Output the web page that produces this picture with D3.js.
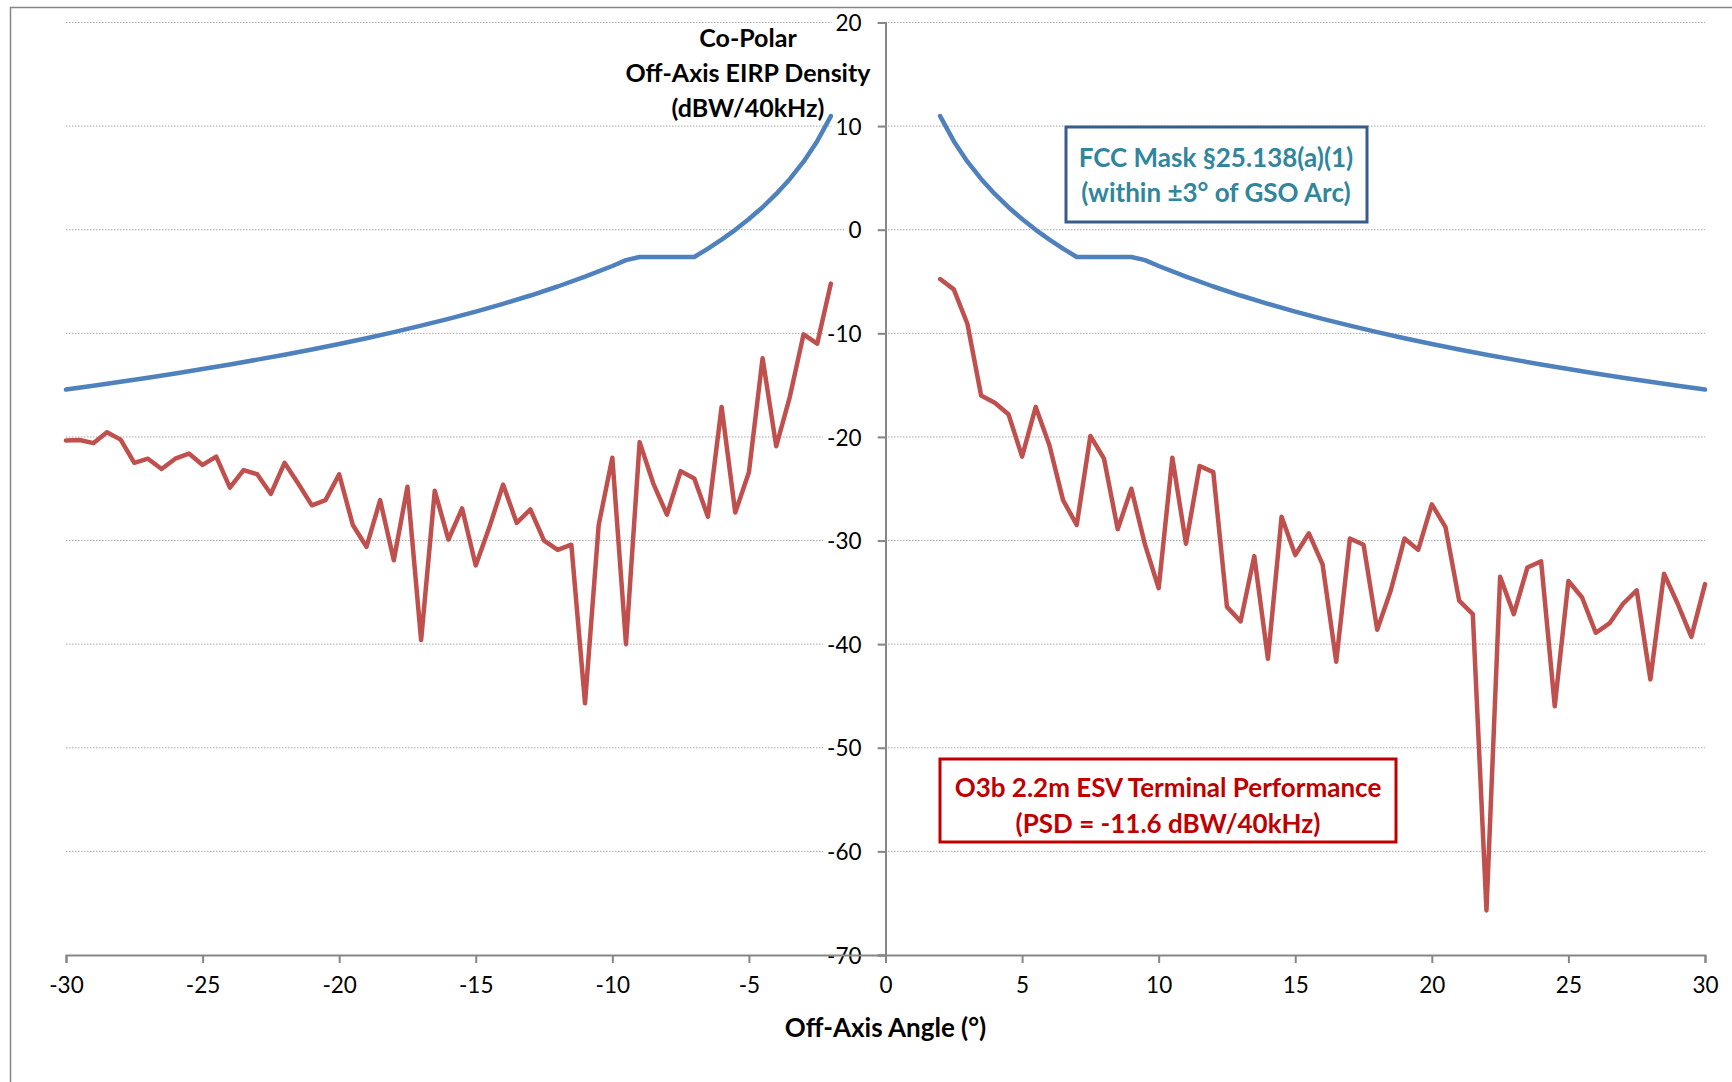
<!DOCTYPE html>
<html><head><meta charset="utf-8">
<script src="https://cdn.jsdelivr.net/npm/d3@7"></script>
<style>
body{margin:0;background:#fff;overflow:hidden}
text{font-family:Lato,"Open Sans",sans-serif}
</style>
</head><body>
<svg id="chart" width="1732" height="1082"></svg>
<script>
// ---------- data ----------
const xTicks = [-30,-25,-20,-15,-10,-5,0,5,10,15,20,25,30];
const yTicks = [20,10,0,-10,-20,-30,-40,-50,-60,-70];
const yGridTicks = [20,10,0,-10,-20,-30,-40,-50,-60];

// FCC mask, positive side; left side is its mirror
const maskAngles = [2,2.5,3,3.5,4,4.5,5,5.5,6,6.5,7,7.5,8,8.5,9,9.5,10,11,12,13,14,15,16,17,18,19,20,21,22,23,24,25,26,27,28,29,30];
const maskValues = [10.97,8.55,6.57,4.90,3.45,2.17,1.03,-0.01,-0.95,-1.82,-2.63,-2.63,-2.63,-2.63,-2.63,-2.94,-3.5,-4.53,-5.48,-6.35,-7.15,-7.90,-8.60,-9.26,-9.88,-10.47,-11.03,-11.56,-12.06,-12.54,-13.01,-13.45,-13.87,-14.28,-14.68,-15.06,-15.43];

// O3b ESV measured performance
const esvLeftAngles = [-30,-29.5,-29,-28.5,-28,-27.5,-27,-26.5,-26,-25.5,-25,-24.5,-24,-23.5,-23,-22.5,-22,-21.5,-21,-20.5,-20,-19.5,-19,-18.5,-18,-17.5,-17,-16.5,-16,-15.5,-15,-14.5,-14,-13.5,-13,-12.5,-12,-11.5,-11,-10.5,-10,-9.5,-9,-8.5,-8,-7.5,-7,-6.5,-6,-5.5,-5,-4.5,-4,-3.5,-3,-2.5,-2];
const esvLeftValues = [-20.35,-20.3,-20.6,-19.55,-20.26,-22.5,-22.1,-23.1,-22.1,-21.6,-22.7,-21.9,-24.9,-23.2,-23.6,-25.5,-22.5,-24.5,-26.6,-26.1,-23.6,-28.5,-30.6,-26.1,-31.9,-24.8,-39.6,-25.2,-29.9,-26.9,-32.4,-28.7,-24.6,-28.3,-27.0,-30.0,-30.9,-30.4,-45.7,-28.5,-22.0,-40.0,-20.5,-24.5,-27.5,-23.3,-24.0,-27.7,-17.1,-27.3,-23.4,-12.4,-20.9,-16.1,-10.1,-11.0,-5.2];
const esvRightAngles = [2,2.5,3,3.5,4,4.5,5,5.5,6,6.5,7,7.5,8,8.5,9,9.5,10,10.5,11,11.5,12,12.5,13,13.5,14,14.5,15,15.5,16,16.5,17,17.5,18,18.5,19,19.5,20,20.5,21,21.5,22,22.5,23,23.5,24,24.5,25,25.5,26,26.5,27,27.5,28,28.5,29,29.5,30];
const esvRightValues = [-4.76,-5.76,-9.1,-16.0,-16.7,-17.8,-21.9,-17.1,-20.8,-26.1,-28.5,-19.9,-22.1,-28.9,-25.0,-30.4,-34.6,-22.0,-30.3,-22.8,-23.4,-36.4,-37.8,-31.5,-41.4,-27.7,-31.4,-29.3,-32.3,-41.7,-29.8,-30.4,-38.6,-34.8,-29.8,-30.9,-26.5,-28.7,-35.8,-37.1,-65.7,-33.5,-37.1,-32.6,-32.0,-46.0,-33.9,-35.5,-38.9,-38.0,-36.1,-34.8,-43.4,-33.2,-36.1,-39.3,-34.2];

const yTitleLines = ["Co-Polar","Off-Axis EIRP Density","(dBW/40kHz)"];
const xTitle = "Off-Axis Angle (°)";
const maskLabel = ["FCC Mask §25.138(a)(1)","(within ±3° of GSO Arc)"];
const esvLabel = ["O3b 2.2m ESV Terminal Performance","(PSD = -11.6 dBW/40kHz)"];

// ---------- drawing ----------
const svg = d3.select("#chart");
const x = d3.scaleLinear().domain([-30,30]).range([66,1705]);
const y = d3.scaleLinear().domain([-70,20]).range([955,22.5]);
const axisGray = "#868686";

// outer chart border
svg.append("rect").attr("x",10.5).attr("y",7.5).attr("width",1760).attr("height",1100)
  .attr("fill","#fff").attr("stroke",axisGray).attr("stroke-width",1.5);

// gridlines
svg.append("g").selectAll("line").data(yGridTicks).join("line")
  .attr("x1",x(-30)).attr("x2",x(30))
  .attr("y1",d=>y(d)).attr("y2",d=>y(d))
  .attr("stroke","#a9a9a9").attr("stroke-width",1).attr("stroke-dasharray","1.5,1.5");

// y axis (at x = 0)
const yAxis = d3.axisLeft(y).tickValues(yTicks).tickSize(8).tickPadding(16).tickFormat(d=>String(d));
const gy = svg.append("g").attr("transform",`translate(${x(0)},0)`).call(yAxis);
gy.select(".domain").attr("stroke",axisGray).attr("stroke-width",2);
gy.selectAll(".tick line").attr("stroke",axisGray).attr("stroke-width",2);
gy.selectAll(".tick text").attr("font-size",22.5).attr("fill","#000")
  .attr("font-family","Lato").attr("dy","0.36em");
// white backgrounds behind y labels (cover gridlines)
gy.selectAll(".tick").each(function(){
  const t = d3.select(this).select("text").node();
  const b = t.getBBox();
  d3.select(this).insert("rect","text")
    .attr("x",b.x-4).attr("y",-11).attr("width",(-8)-(b.x-4)).attr("height",22)
    .attr("fill","#fff");
});

// x axis
const xAxis = d3.axisBottom(x).tickValues(xTicks).tickSize(8).tickPadding(14).tickFormat(d=>String(d));
const gx = svg.append("g").attr("transform",`translate(0,${y(-70)})`).call(xAxis);
gx.select(".domain").attr("stroke",axisGray).attr("stroke-width",2);
gx.selectAll(".tick line").attr("stroke",axisGray).attr("stroke-width",2);
gx.selectAll(".tick text").attr("font-size",22.5).attr("fill","#000").attr("font-family","Lato");

// lines
const line = d3.line().x(d=>x(d[0])).y(d=>y(d[1]));
const maskRight = maskAngles.map((a,i)=>[a,maskValues[i]]);
const maskLeft = maskAngles.map((a,i)=>[-a,maskValues[i]]).reverse();
const esvLeft = esvLeftAngles.map((a,i)=>[a,esvLeftValues[i]]);
const esvRight = esvRightAngles.map((a,i)=>[a,esvRightValues[i]]);

[maskLeft,maskRight].forEach(dat=>{
  svg.append("path").datum(dat).attr("d",line).attr("fill","none")
    .attr("stroke","#4F81BD").attr("stroke-width",4.5).attr("stroke-linejoin","round").attr("stroke-linecap","round");
});
[esvLeft,esvRight].forEach(dat=>{
  svg.append("path").datum(dat).attr("d",line).attr("fill","none")
    .attr("stroke","#C0504D").attr("stroke-width",4.5).attr("stroke-linejoin","round").attr("stroke-linecap","round");
});

// y-axis title
const yt = svg.append("text").attr("text-anchor","middle").attr("font-weight","bold")
  .attr("font-size",25).attr("fill","#000");
yTitleLines.forEach((s,i)=>{
  yt.append("tspan").attr("x",748).attr("y",47+i*35).text(s);
});

// x-axis title
svg.append("text").attr("x",x(0)).attr("y",1037).attr("text-anchor","middle")
  .attr("font-weight","bold").attr("font-size",26).attr("fill","#000").text(xTitle);

// annotation boxes
function box(x0,y0,w,h,color,textColor,lines,cx,baselines,fs){
  svg.append("rect").attr("x",x0).attr("y",y0).attr("width",w).attr("height",h)
    .attr("fill","#fff").attr("stroke",color).attr("stroke-width",3);
  lines.forEach((s,i)=>{
    svg.append("text").attr("x",cx).attr("y",baselines[i]).attr("text-anchor","middle")
      .attr("font-weight","bold").attr("font-size",fs).attr("fill",textColor).text(s);
  });
}
box(1066,127,301,95,"#385D8A","#31859C",maskLabel,1216,[167,202],26);
box(940,759,456,83,"#C00000","#C00000",esvLabel,1168,[797,833],26);
</script>
</body></html>
